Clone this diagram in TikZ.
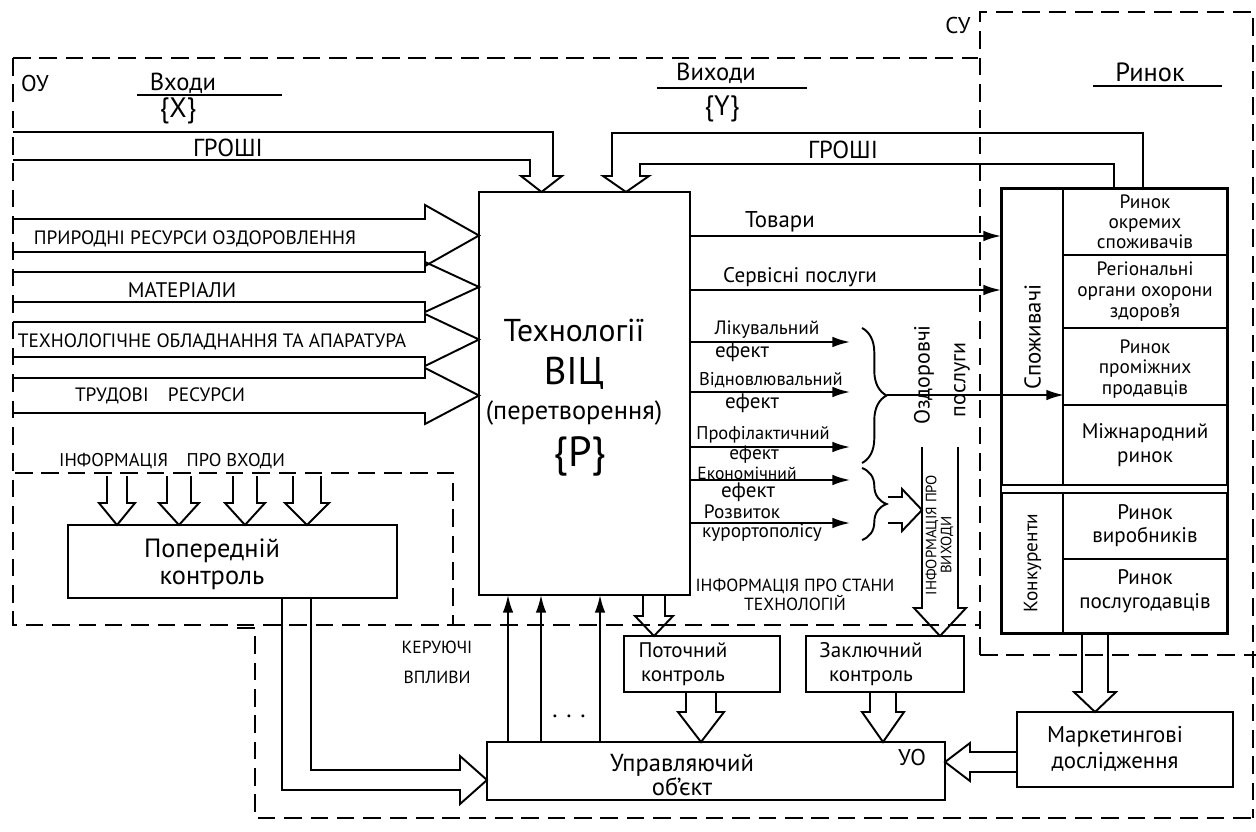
\documentclass[tikz,border=0pt]{standalone}
\usepackage{fontspec}
\setmainfont{PT Sans}
\usetikzlibrary{arrows.meta,fit,decorations.pathreplacing}

\begin{document}
\begin{tikzpicture}[x=0.02cm, y=-0.02cm, line width=1.1pt,
    box/.style={draw, inner sep=0pt},
    zone/.style={line width=1.3pt, dash pattern=on 10pt off 5pt},
    fs/.style args={#1/#2}{font=\fontsize{#1}{#2}\selectfont, inner sep=1pt},
    lnk/.style={-{Latex[length=10pt,width=6pt]}},
    brc/.style={decorate, decoration={brace, amplitude=14pt}}]
\useasboundingbox (0,0) rectangle (1256,831);

% Зони ОУ, СУ, ринок
\draw[zone] (13,58) -- (978,58);
\draw[zone] (13,58) -- (13,625) -- (980,625);
\draw[zone] (15,473) -- (453,473) -- (453,625);
\draw[zone] (980,655) -- (980,12) -- (1253,12) -- (1253,818);
\draw[zone] (980,655) -- (1256,655);
\draw[zone] (237,628) -- (255,628) -- (255,818) -- (1253,818);
\node[fs=13/15] (oy) at (35,84) {ОУ};
\node[fs=13/15] (sy) at (958,26) {СУ};

% Технології ВІЦ
\node[box, fit={(479,192) (690,595)}] (tech) {};
\node[fs=18/20] (techA) at (574,330) {Технології};
\node[fs=22/24] (techB) at (574,373) {ВІЦ};
\node[fs=15/17] (techC) at (574,413) {(перетворення)};
\node[fs=24/26] (techD) at (580,456) {\{P\}};

% Входи
\node[fs=14/16] (vh) at (183,83) {Входи};
\draw (137,95) -- (282,95);
\node[fs=16/18] (vhx) at (178,111) {\{X\}};
\node[fs=14/16] (grL) at (228,148) {ГРОШІ};
\draw (13,132) -- (553,132) -- (553,176) -- (562,176) -- (541.5,192)
      -- (521,176) -- (530,176) -- (530,160) -- (13,160);
\foreach \t/\b/\ht/\hb in {219/252/205/266, 272/302/262/312,
                            322/357/314/366, 378/413/368/424}
  \draw (13,\t) -- (425,\t) -- (425,\ht) -- (479,{(\t+\b)/2})
        -- (425,\hb) -- (425,\b) -- (13,\b);
\node[fs=11/13] (bnd1) at (195,239) {ПРИРОДНІ РЕСУРСИ ОЗДОРОВЛЕННЯ};
\node[fs=12/14] (bnd2) at (182,290) {МАТЕРІАЛИ};
\node[fs=11/13] (bnd3) at (212,342) {ТЕХНОЛОГІЧНЕ ОБЛАДНАННЯ ТА АПАРАТУРА};
\node[fs=11/13] (bnd4) at (160,396) {ТРУДОВІ\quad РЕСУРСИ};
\node[fs=10.5/12] (infin) at (172,461) {ІНФОРМАЦІЯ\quad ПРО ВХОДИ};

% Попередній контроль
\node[box, fit={(68,525) (397,598)}] (prev) {};
\node[fs=15/15.5, align=center] (prevT) at (212,564) {Попередній\\контроль};

% Виходи
\node[fs=14/16] (vyh) at (716,73) {Виходи};
\draw (657,88) -- (807,88);
\node[fs=16/18] (vyhy) at (722,109) {\{Y\}};
\node[fs=14/16] (grR) at (843,150) {ГРОШІ};
\draw (1143,189) -- (1143,133) -- (612,133) -- (612,176) -- (603,176) -- (626,192)
      -- (649,176) -- (640,176) -- (640,164) -- (1114,164) -- (1114,189);

% Ринок
\node[fs=15/17] (rynok) at (1150,72) {Ринок};
\draw (1093,86) -- (1222,86);
\node[box, fit={(1002,189) (1063,485)}] (cons) {};
\node[box, fit={(1002,493) (1063,633)}] (comp) {};
\node[rotate=90, fs=13/15] (consT) at (cons) {Споживачі};
\node[rotate=90, fs=11/13] (compT) at (comp) {Конкуренти};
\node[box, fit={(1063,189) (1227,255)}] (r1) {};
\node[box, fit={(1063,255) (1227,328)}] (r2) {};
\node[box, fit={(1063,328) (1227,405)}] (r3) {};
\node[box, fit={(1063,405) (1227,485)}] (r4) {};
\node[box, fit={(1063,493) (1227,559)}] (r5) {};
\node[box, fit={(1063,559) (1227,633)}] (r6) {};
\draw (cons.north west) rectangle (r6.south east);
\node[fs=11/11.5, align=center] (r1T) at (r1) {Ринок\\окремих\\споживачів};
\node[fs=11/12, align=center] (r2T) at (r2) {Регіональні\\органи охорони\\здоров'я};
\node[fs=11/11.5, align=center] (r3T) at (1145,369) {Ринок\\проміжних\\продавців};
\node[fs=12/14, align=center] (r4T) at (r4) {Міжнародний\\ринок};
\node[fs=12/13, align=center] (r5T) at (r5) {Ринок\\виробників};
\node[fs=12/14, align=center] (r6T) at (1145,591) {Ринок\\послугодавців};

% Товари, послуги, ефекти
\coordinate (tv) at (1000,236);
\coordinate (sp) at (1000,290);
\draw[lnk] (tech.east |- tv) -- (cons.west |- tv);
\draw[lnk] (tech.east |- sp) -- (cons.west |- sp);
\node[fs=13/15] (tvT) at (780,222) {Товари};
\node[fs=12/14] (spT) at (800,277) {Сервісні послуги};
\foreach \y [count=\i] in {342,392,447,480,523} {
  \coordinate (ef\i) at (850,\y);
  \draw[lnk] (tech.east |- ef\i) -- (ef\i);
}
\node[fs=11/13] (e1) at (767,330) {Лікувальний};
\node[fs=12/13] (e1b) at (742,352) {ефект};
\node[fs=10.5/12] (e2) at (771,380) {Відновлювальний};
\node[fs=12/13] (e2b) at (752,403) {ефект};
\node[fs=10.5/12] (e3) at (763,435) {Профілактичний};
\node[fs=11/12] (e3b) at (754,455) {ефект};
\node[fs=10/11] (e4) at (747,473) {Економічний};
\node[fs=12/13] (e4b) at (748,492) {ефект};
\node[fs=11/13] (e5) at (742,512) {Розвиток};
\node[fs=11/13] (e5b) at (762,533) {курортополісу};
\draw[brc] (862,328) -- (862,463);
\draw[brc] (862,468) -- (862,540);
\coordinate (b1) at (887,395);
\draw[lnk] (b1) -- (cons.east |- b1);
\draw (888,497) -- (902,497) -- (902,489) -- (922,510) -- (902,531)
      -- (902,523) -- (888,523);
\node[rotate=90, fs=12.5/14] (ozd) at (924,375) {Оздоровчі};
\node[rotate=90, fs=12.5/14] (posl) at (962,380) {послуги};
\node[rotate=90, fs=8.5/10] (infv1) at (932,535) {ІНФОРМАЦІЯ ПРО};
\node[rotate=90, fs=8.5/10] (infv2) at (947,545) {ВИХОДИ};
\node[fs=10/11, align=center] (infst) at (795,595) {ІНФОРМАЦІЯ ПРО СТАНИ\\ТЕХНОЛОГІЙ};

% Контроль і управління
\node[box, fit={(624,636) (780,692)}] (potoch) {};
\node[fs=12/14, align=center] (potochT) at (683,664) {Поточний\\контроль};
\node[box, fit={(806,636) (964,692)}] (zakl) {};
\node[fs=12/14, align=center] (zaklT) at (871,664) {Заключний\\контроль};
\node[box, fit={(487,742) (945,800)}] (upr) {};
\node[fs=14/14, align=center] (uprT) at (682,775) {Управляючий\\об'єкт};
\node[fs=13/15] (uo) at (912,757) {УО};
\node[box, fit={(1017,712) (1233,787)}] (mark) {};
\node[fs=13/15, align=center] (markT) at (1115,749) {Маркетингові\\дослідження};
\node[fs=10/17, align=center] (ker) at (437,662) {КЕРУЮЧІ\\ВПЛИВИ};
\node[fs=14/16] (dots) at (569,716) {. . .};
\foreach \x [count=\i] in {508,541,600} {
  \coordinate (k\i) at (\x,595);
  \draw[lnk] (upr.north -| k\i) -- (k\i);
}
% широкі стрілки вниз
\foreach \cx/\hw/\ya/\yb/\yc in {117/10/476/503/525, 179/12/476/503/525,
    245/12/476/503/525, 307/14/476/503/525, 654/11/595/616/636,
    701/15/692/712/742, 883/13/692/712/742, 940/18/447/608/636,
    1095/13/633/692/712}
  \draw ({\cx-\hw},\ya) -- ({\cx-\hw},\yb) -- ({\cx-\hw-8},\yb) -- (\cx,\yc)
        -- ({\cx+\hw+8},\yb) -- ({\cx+\hw},\yb) -- ({\cx+\hw},\ya);
\draw (282,598) -- (282,790) -- (460,790) -- (460,804) -- (487,780)
      -- (460,756) -- (460,770) -- (311,770) -- (311,598);
\draw (1017,752) -- (970,752) -- (970,743) -- (945,762) -- (970,781)
      -- (970,772) -- (1017,772);
\end{tikzpicture}
\end{document}
